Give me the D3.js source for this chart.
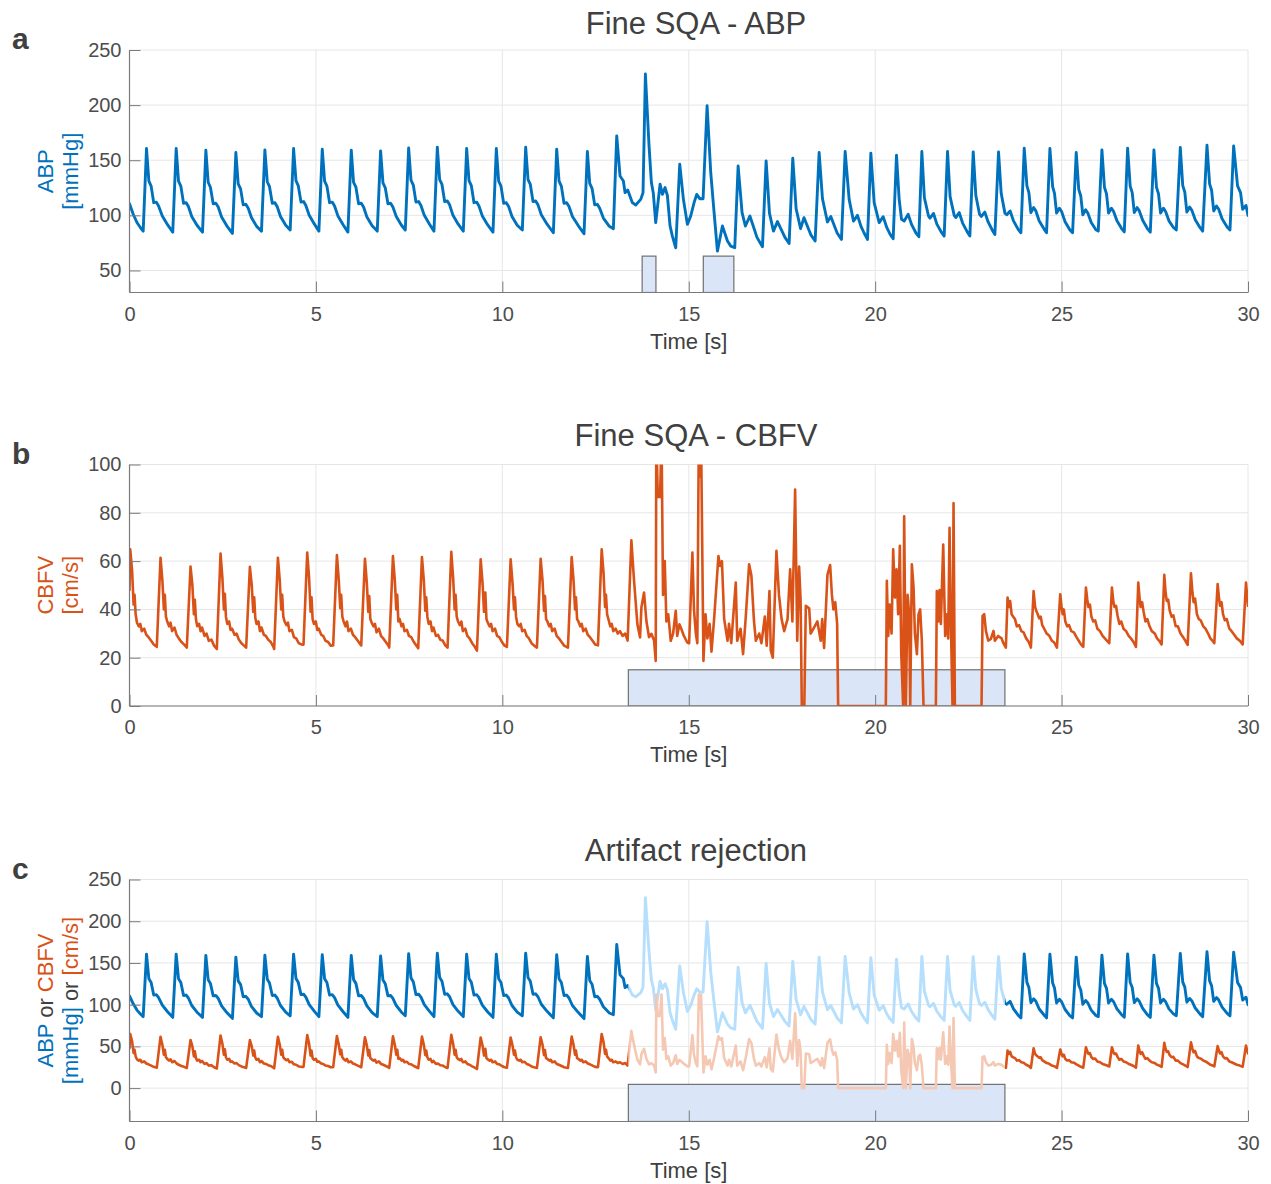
<!DOCTYPE html>
<html>
<head>
<meta charset="utf-8">
<script src="https://cdn.jsdelivr.net/npm/d3@7"></script>
<style>
  body { margin: 0; background: #fff; }
  text { font-family: "Liberation Sans", Arial, Helvetica, sans-serif; }
</style>
</head>
<body>
<svg width="1271" height="1184"></svg>
<script>
// ---- data ----
const xTicks = [0, 5, 10, 15, 20, 25, 30];
const abpTicks = [50, 100, 150, 200, 250];
const cbfvTicks = [0, 20, 40, 60, 80, 100];
const bothTicks = [0, 50, 100, 150, 200, 250];

// windows flagged by the fine SQA  [start s, end s]
const abpWindows = [[13.75, 14.12], [15.39, 16.21]];
const cbfvWindows = [[13.38, 23.48]];
const rejectWindow = [13.38, 23.48];

// ABP [time s, mmHg]
const abp = [
  [0,110.5],[0.1,101],[0.2,93.5],[0.3,88.5],
  [0.367,85.7],[0.456,160.6],[0.52,131],[0.58,126.5],[0.65,111.5],[0.72,112],[0.78,108.5],[0.88,99.5],[1.02,91.5],
  [1.16,84.8],[1.252,160.6],[1.315,131],[1.377,126.5],[1.45,111],[1.52,111.5],[1.58,108],[1.67,99],[1.81,91],
  [1.958,84.8],[2.048,159.1],[2.11,130],[2.17,125.5],[2.245,110.5],[2.315,111],[2.38,107.5],[2.47,98.5],[2.61,90.5],
  [2.76,83.6],[2.853,157],[2.915,128.5],[2.98,124],[3.05,109.5],[3.12,110],[3.185,106.5],[3.27,98],[3.41,90],
  [3.54,85.7],[3.631,159.4],[3.695,130.5],[3.755,126],[3.83,111],[3.9,111.5],[3.96,108],[4.05,99],[4.19,91],
  [4.31,86.7],[4.401,160.6],[4.465,131.5],[4.525,127],[4.6,112],[4.67,112.5],[4.73,109],[4.82,100],[4.96,92],
  [5.08,85.7],[5.17,160],[5.233,131],[5.295,126.5],[5.367,111.5],[5.438,112],[5.5,108.5],[5.59,99.5],[5.73,91.5],
  [5.858,84.8],[5.948,159.1],[6.01,130],[6.073,125.5],[6.145,110.5],[6.216,111],[6.278,107.5],[6.368,98.5],[6.508,90.5],
  [6.645,85.7],[6.735,158.5],[6.798,129.5],[6.86,125],[6.932,110.5],[7.003,111],[7.065,107.5],[7.155,99],[7.295,91],
  [7.397,86.7],[7.487,161.2],[7.55,132],[7.612,127.5],[7.684,112],[7.755,112.5],[7.817,109],[7.907,100],[8.047,92],
  [8.166,85.7],[8.256,161.8],[8.319,132.5],[8.381,128],[8.453,112.5],[8.524,113],[8.586,109.5],[8.676,100],[8.816,92],
  [8.953,85.7],[9.043,160.6],[9.106,131.5],[9.168,127],[9.24,111.5],[9.311,112],[9.373,108.5],[9.463,99.5],[9.603,91.5],
  [9.749,84.8],[9.839,160.6],[9.902,131],[9.964,126.5],[10.036,111],[10.107,111.5],[10.169,108],[10.259,99],[10.399,91],
  [10.536,86.7],[10.626,161.8],[10.689,132.5],[10.751,128],[10.823,112.5],[10.894,113],[10.956,109.5],[11.046,100.5],[11.2,92],
  [11.368,84.2],[11.458,160],[11.521,131],[11.583,126.5],[11.655,111],[11.726,111.5],[11.788,108],[11.88,99],[12.04,90.5],
  [12.191,83.3],[12.281,157.9],[12.344,129],[12.406,124.5],[12.478,109.5],[12.549,110],[12.611,106.5],[12.71,97.5],[12.87,90],
  [12.978,87.9],[13.068,172.1],[13.157,135.7],[13.247,131.2],[13.291,120.6],[13.363,123],[13.488,111.5],[13.578,109.4],
  [13.712,114.5],[13.774,120.6],[13.837,228.2],[13.935,163],[13.998,129.7],[14.05,120],[14.114,93.4],[14.231,128.2],
  [14.293,119],[14.365,125.2],[14.427,118],[14.499,90.3],[14.561,81.2],[14.651,70.6],[14.758,146.4],[14.857,114.5],
  [14.964,91.8],[15.053,99.4],[15.143,111.5],[15.214,119],[15.295,115.1],[15.384,115],[15.492,199.4],[15.59,138.8],
  [15.68,102.4],[15.769,67.5],[15.903,90.3],[16.038,76.7],[16.127,72.1],[16.234,70.6],
  [16.324,144.8],[16.43,102.4],[16.52,90.3],[16.64,99.4],[16.83,80],[16.977,71.5],
  [17.075,149.4],[17.165,102],[17.272,85.7],[17.38,94.3],[17.58,80],[17.692,74.5],
  [17.79,151.8],[17.88,106],[18.0,87.9],[18.09,97.9],[18.28,82],[18.39,76.7],
  [18.497,157],[18.587,115],[18.72,94],[18.81,99],[18.98,84],[19.096,78.2],
  [19.195,157.9],[19.302,114.5],[19.418,94.8],[19.526,100],[19.62,90],[19.7,84.2],[19.794,78.2],
  [19.884,156.4],[19.973,111.5],[20.107,93.4],[20.215,98.8],[20.313,88.8],[20.402,82.7],[20.483,78.8],
  [20.572,154.5],[20.644,114.5],[20.707,96.4],[20.778,94.8],[20.886,100.9],[20.975,91.8],[21.091,84.2],[21.172,80.6],
  [21.252,157.9],[21.32,116],[21.431,99.4],[21.47,97.5],[21.565,101.7],[21.655,92],[21.78,84.5],[21.851,81.2],
  [21.941,157.9],[22.01,117],[22.12,100],[22.16,98],[22.255,102.5],[22.345,93],[22.47,85],[22.54,81.2],
  [22.63,157.6],[22.7,118],[22.8,101],[22.85,99],[22.94,103],[23.03,94],[23.15,86],[23.211,82.7],
  [23.309,157.6],[23.38,120],[23.48,102],[23.53,100.5],[23.62,104],[23.71,95],[23.84,87],[23.909,84.2],
  [23.998,160.9],[24.07,126.7],[24.123,120.6],[24.177,102.4],[24.249,107],[24.311,104],[24.4,94.8],[24.535,87.3],[24.597,84.2],
  [24.687,160.6],[24.76,126],[24.81,120],[24.866,102],[24.94,106.5],[25.0,103.5],[25.09,94.5],[25.22,87],[25.295,84.2],
  [25.393,157],[25.46,123.5],[25.515,117.5],[25.57,100.5],[25.645,105],[25.705,102],[25.795,93.5],[25.92,87],[25.984,85.7],
  [26.082,159.4],[26.15,125.5],[26.205,119.5],[26.26,102],[26.335,106.5],[26.395,103.5],[26.485,95],[26.61,88],[26.682,85],
  [26.771,160.9],[26.84,126.5],[26.895,120.5],[26.95,102.5],[27.025,107],[27.085,104],[27.175,95.5],[27.3,88],[27.379,84.8],
  [27.477,159.4],[27.545,125.5],[27.6,119.5],[27.655,102],[27.73,106.5],[27.79,103.5],[27.88,95],[28.0,89],[28.077,86.7],
  [28.184,161.5],[28.25,127],[28.305,121],[28.36,103],[28.435,107.5],[28.495,104.5],[28.585,96],[28.71,89],[28.784,85.7],
  [28.9,163.6],[28.97,128.5],[29.025,122.5],[29.08,104],[29.155,108.5],[29.215,105.5],[29.305,97],[29.44,89.5],[29.517,86.7],
  [29.615,163],[29.72,126.7],[29.8,120.6],[29.857,105.5],[29.946,109],[30,100]
];

// CBFV [time s, cm/s]
const cbfv = [
  [0,48],[0.02,64.9],[0.07,56],[0.11,42],[0.135,46],[0.165,38],[0.2,34.5],[0.25,33],[0.29,34],[0.33,31],[0.395,32],[0.45,29.5],[0.51,28.5],[0.58,27],[0.65,25.5],
  [0.732,24.5],[0.832,61.4],[0.882,52],[0.922,40],[0.947,46],[0.977,37],[1.012,35],[1.062,33],[1.102,34.5],[1.142,31],[1.207,32.5],[1.262,29.5],[1.322,28],[1.392,26.5],[1.462,25.5],
  [1.537,24.2],[1.637,57.7],[1.687,50],[1.727,38],[1.752,44],[1.782,36],[1.817,33],[1.867,34],[1.907,31],[1.947,32.5],[2.012,29],[2.067,30],[2.127,27],[2.197,27.5],[2.267,25],
  [2.342,23.6],[2.442,63.1],[2.492,53],[2.532,40],[2.557,46.5],[2.587,37],[2.622,34],[2.672,35],[2.712,31.5],[2.752,32],[2.817,29.5],[2.872,30],[2.932,27.5],[3.002,26],[3.072,25],
  [3.129,24.2],[3.229,57.6],[3.279,50],[3.319,39],[3.344,45],[3.374,36.5],[3.409,34],[3.459,35],[3.499,31],[3.539,32.5],[3.604,29.5],[3.659,29],[3.719,27.5],[3.789,26.5],[3.859,24.5],
  [3.88,23.6],[3.98,61.4],[4.03,52],[4.07,40],[4.095,46],[4.125,37],[4.16,35],[4.21,33.5],[4.25,34.5],[4.29,31],[4.355,31.5],[4.41,28.5],[4.47,28],[4.54,26],[4.61,25.5],
  [4.667,25.4],[4.767,63.5],[4.817,53],[4.857,39],[4.882,45],[4.912,36],[4.947,34],[4.997,35],[5.037,31.5],[5.077,32],[5.142,29.5],[5.197,29],[5.257,27],[5.327,26.5],[5.397,25],
  [5.463,25.1],[5.563,62.5],[5.613,52],[5.653,40.5],[5.678,46],[5.708,37],[5.743,35],[5.793,33],[5.833,35],[5.873,31],[5.938,32],[5.993,29.5],[6.053,28.5],[6.123,27],[6.193,25.5],
  [6.215,25.1],[6.315,61],[6.365,51],[6.405,39],[6.43,45.5],[6.46,36],[6.495,34.5],[6.545,33],[6.585,34],[6.625,30.5],[6.69,32],[6.745,29],[6.805,28],[6.875,26.5],[6.945,25],
  [6.966,24.2],[7.066,62.1],[7.116,52],[7.156,40],[7.181,46],[7.211,35],[7.246,36],[7.296,33],[7.336,34],[7.376,31],[7.441,31.5],[7.496,29],[7.556,28.5],[7.626,26.5],[7.696,25],
  [7.744,23.9],[7.844,61.7],[7.894,52],[7.934,39.5],[7.959,45],[7.989,37],[8.024,34],[8.074,35],[8.114,31],[8.154,32.5],[8.219,29],[8.274,29.5],[8.334,27.5],[8.404,27],[8.474,25],
  [8.531,24.2],[8.631,63.8],[8.681,53],[8.721,40],[8.746,46],[8.776,37],[8.811,35],[8.861,33.5],[8.901,35],[8.941,31],[9.006,32],[9.061,29],[9.121,28],[9.191,26],[9.261,24.5],
  [9.319,22.9],[9.419,60.7],[9.469,51],[9.509,39],[9.544,47],[9.574,36],[9.609,34.5],[9.659,33],[9.699,34],[9.739,31],[9.804,32],[9.859,29],[9.919,28.5],[9.989,26.5],[10.059,25],
  [10.123,24.5],[10.223,60.7],[10.273,51],[10.313,40],[10.338,45],[10.368,37],[10.403,34],[10.453,33],[10.493,34],[10.533,31],[10.598,31.5],[10.653,29],[10.713,28],[10.783,26],[10.853,25],
  [10.928,24.2],[11.028,61],[11.078,52],[11.118,39.5],[11.143,45.5],[11.173,36],[11.208,35],[11.258,33],[11.298,34],[11.338,31],[11.403,32],[11.458,29],[11.518,28],[11.588,26.5],[11.658,25],
  [11.76,24.2],[11.86,61.7],[11.91,52],[11.95,40],[11.975,45],[12.005,36],[12.04,35],[12.09,33],[12.13,34],[12.17,31],[12.235,32],[12.29,29.5],[12.35,28.5],[12.42,27],[12.49,25.5],
  [12.565,25.1],[12.665,64.9],[12.715,55],[12.755,41],[12.78,46],[12.81,38],[12.845,36],[12.895,33],[12.935,34],[12.975,31],[13.04,32],[13.095,30],[13.155,31],[13.225,29],[13.295,30],[13.361,27.1],
  [13.461,68.6],[13.533,51.8],[13.622,33.9],[13.694,28.4],[13.73,40.8],[13.801,47],[13.864,35.2],[13.935,28.5],[13.998,29.9],[14.07,27.1],[14.114,18.7],
  [14.13,112],[14.17,86.6],[14.23,86.6],[14.27,112],[14.31,46],[14.356,60],[14.4,35],[14.45,38],[14.517,27],[14.58,30],[14.651,39.4],[14.69,29],
  [14.75,33.8],[14.8,32],[14.87,29],[14.96,26.3],[15.01,26],[15.098,63.5],[15.14,40],[15.19,30],[15.23,26],[15.27,112],[15.3,95],[15.33,112],[15.394,18.7],
  [15.45,38],[15.5,28],[15.56,34],[15.61,22.5],[15.68,36],[15.796,62.1],[15.84,58],[15.89,60],[15.95,36],[16.04,27],[16.08,34],[16.14,26],
  [16.261,51.1],[16.3,27],[16.39,32],[16.457,21.5],[16.53,37],[16.619,58.7],[16.68,54],[16.75,35],[16.8,27],[16.89,30],[16.95,26],[17.04,37],[17.09,25],
  [17.165,47.6],[17.2,23],[17.254,20],[17.352,64.3],[17.42,46],[17.49,36],[17.56,31],[17.65,36],[17.719,56.6],[17.78,35],[17.853,89.6],[17.91,27],
  [17.96,57.7],[18.0,44],[18.032,0],[18.1,0],[18.14,41.5],[18.23,40.5],[18.27,30],[18.36,32.5],[18.45,35],[18.54,27],[18.58,36],[18.63,24],
  [18.72,54.3],[18.792,58.4],[18.84,46],[18.88,40],[18.93,43],[18.98,34],[19.007,0],
  [20.286,0],[20.313,51.8],[20.35,29],[20.39,42],[20.44,30],[20.483,64.9],[20.53,44.9],[20.573,56.6],[20.617,38],[20.662,66.3],[20.7,21.5],
  [20.751,0],[20.778,78.6],[20.823,0],[20.87,46],[20.912,38],[20.94,0],[20.984,58.7],[21.03,49],[21.065,30],[21.12,21.5],[21.163,38],[21.207,40],[21.252,27],[21.297,0],
  [21.628,0],[21.654,47.6],[21.69,35],[21.727,48],[21.762,34],[21.825,66.9],[21.878,29],[21.923,38],[21.959,28],[21.995,73.8],[22.03,35],[22.075,0],[22.102,84],[22.138,0],
  [22.853,0],[22.88,37.3],[22.925,38],[22.97,31.1],[23.032,27.1],[23.104,27.8],[23.175,31.1],[23.211,27],[23.3,29],[23.39,28],[23.443,25.9],[23.506,24.2],
  [23.551,44.9],[23.59,41],[23.62,43.5],[23.66,38],[23.7,37],[23.75,36],[23.8,33],[23.86,33.5],[23.92,31],[23.98,30.5],[24.05,28],[24.12,26.5],[24.177,24.2],
  [24.249,47.6],[24.29,41],[24.32,39.4],[24.36,38],[24.4,36.3],[24.44,37],[24.48,33.5],[24.53,32.1],[24.6,30],[24.67,29.1],[24.74,27],[24.803,26.3],[24.875,24.2],
  [24.964,46.3],[25.0,41],[25.03,38],[25.06,40],[25.1,35],[25.15,33],[25.2,33.5],[25.26,31],[25.33,30.5],[25.4,28.5],[25.46,27],[25.52,25.5],[25.581,24.5],
  [25.653,49],[25.69,44],[25.72,41],[25.76,42],[25.8,37],[25.85,35],[25.9,35.5],[25.96,32],[26.03,31],[26.1,29],[26.16,28],[26.22,27],[26.279,26],
  [26.35,49],[26.39,43],[26.42,41],[26.46,41.5],[26.5,37.5],[26.55,34],[26.6,35],[26.66,32],[26.73,31],[26.8,29],[26.86,28],[26.93,26.5],[26.995,24.5],
  [27.057,51.1],[27.09,45],[27.12,41],[27.16,43],[27.2,39],[27.25,35],[27.3,36],[27.36,33],[27.42,31],[27.5,30],[27.56,28],[27.62,27],[27.683,25.5],
  [27.755,54.3],[27.79,47],[27.82,43.5],[27.86,44],[27.9,39.5],[27.95,37],[28.0,37.5],[28.06,33],[28.12,33],[28.19,30],[28.26,28.5],[28.32,27],[28.381,25.3],
  [28.47,54.9],[28.51,47],[28.54,43],[28.58,44.5],[28.63,38],[28.68,36],[28.73,35.5],[28.8,33],[28.86,32],[28.93,30],[28.99,28],[29.05,27],[29.096,26],
  [29.186,50.5],[29.22,45],[29.25,41.5],[29.29,43],[29.33,38],[29.38,35.5],[29.43,36],[29.5,32],[29.56,31],[29.63,29.5],[29.7,28],[29.78,27],[29.857,25.5],
  [29.946,51.1],[30,41.5]
];

// ---- layout ----
const svg = d3.select('svg');
const blue = '#0072BD', orange = '#D95319';
const lightBlue = '#b5dffc', lightOrange = '#f5c8b4';
const left = 129.5, right = 1248;
const abpWidth = 2.9, cbfvWidth = 2.6;

const x = d3.scaleLinear().domain([0, 30]).range([left, right]);

const panels = [
  {id: 'a', title: 'Fine SQA - ABP', top: 50, bottom: 292.5, domain: [30, 250], ticks: abpTicks, titleGap: 16,
   boxes: abpWindows.map(w => [w[0], w[1], 30, 63])},
  {id: 'b', title: 'Fine SQA - CBFV', top: 464.5, bottom: 706, domain: [0, 100], ticks: cbfvTicks, titleGap: 18.5,
   boxes: cbfvWindows.map(w => [w[0], w[1], 0, 15])},
  {id: 'c', title: 'Artifact rejection', top: 879.5, bottom: 1121.5, domain: [-40, 250], ticks: bothTicks, titleGap: 18.5,
   boxes: [[rejectWindow[0], rejectWindow[1], -40, 4.5]]}
];

const defs = svg.append('defs');

panels.forEach(p => {
  const y = d3.scaleLinear().domain(p.domain).range([p.bottom, p.top]);
  const g = svg.append('g');

  // grid
  g.append('g').selectAll('line').data(xTicks).enter().append('line')
    .attr('x1', d => x(d)).attr('x2', d => x(d))
    .attr('y1', p.top).attr('y2', p.bottom)
    .attr('stroke', '#e6e6e6').attr('stroke-width', 1);
  g.append('g').selectAll('line').data(p.ticks).enter().append('line')
    .attr('x1', left).attr('x2', right)
    .attr('y1', d => y(d)).attr('y2', d => y(d))
    .attr('stroke', '#e6e6e6').attr('stroke-width', 1);

  defs.append('clipPath').attr('id', 'clip-' + p.id)
    .append('rect').attr('x', left).attr('y', p.top)
    .attr('width', right - left).attr('height', p.bottom - p.top);

  const plot = g.append('g').attr('clip-path', `url(#clip-${p.id})`);

  // flagged windows
  plot.selectAll('rect.win').data(p.boxes).enter().append('rect')
    .attr('class', 'win')
    .attr('x', d => x(d[0])).attr('width', d => x(d[1]) - x(d[0]))
    .attr('y', d => y(d[3])).attr('height', d => y(d[2]) - y(d[3]))
    .attr('fill', '#dae6f7').attr('stroke', '#707070').attr('stroke-width', 1.2);

  const line = d3.line().x(d => x(d[0])).y(d => y(d[1]));

  const draw = (sel, data, color, w) => sel.append('path').datum(data).attr('d', line)
    .attr('fill', 'none').attr('stroke', color).attr('stroke-width', w)
    .attr('stroke-linejoin', 'round').attr('stroke-linecap', 'round');

  if (p.id === 'a') {
    draw(plot, abp, blue, abpWidth);
  } else if (p.id === 'b') {
    draw(plot, cbfv, orange, cbfvWidth);
  } else {
    // clean parts dark, rejected part light
    defs.append('clipPath').attr('id', 'clip-rej')
      .append('rect').attr('x', x(rejectWindow[0])).attr('y', p.top)
      .attr('width', x(rejectWindow[1]) - x(rejectWindow[0])).attr('height', p.bottom - p.top);
    const keep = defs.append('clipPath').attr('id', 'clip-keep');
    keep.append('rect').attr('x', left).attr('y', p.top)
      .attr('width', x(rejectWindow[0]) - left).attr('height', p.bottom - p.top);
    keep.append('rect').attr('x', x(rejectWindow[1])).attr('y', p.top)
      .attr('width', right - x(rejectWindow[1])).attr('height', p.bottom - p.top);

    const rej = plot.append('g').attr('clip-path', 'url(#clip-rej)');
    draw(rej, abp, lightBlue, abpWidth);
    draw(rej, cbfv, lightOrange, cbfvWidth);

    const ok = plot.append('g').attr('clip-path', 'url(#clip-keep)');
    draw(ok, abp, blue, abpWidth);
    draw(ok, cbfv, orange, cbfvWidth);
  }

  // axes
  const yAxis = d3.axisLeft(y).tickValues(p.ticks).tickSize(-11).tickPadding(8);
  const xAxis = d3.axisBottom(x).tickValues(xTicks).tickSize(-11).tickPadding(14);

  const ya = g.append('g').attr('transform', `translate(${left},0)`).call(yAxis);
  ya.select('.domain').attr('d', `M0,${p.top}V${p.bottom}`);
  const xa = g.append('g').attr('transform', `translate(0,${p.bottom})`).call(xAxis);
  xa.select('.domain').attr('d', `M${left},0H${right}`);

  [ya, xa].forEach(a => {
    a.select('.domain').attr('stroke', '#7a7a7a').attr('stroke-width', 1.2);
    a.selectAll('.tick line').attr('stroke', '#7a7a7a').attr('stroke-width', 1);
    a.selectAll('.tick text').attr('fill', '#4d4d4d').style('font-size', '20px')
      .style('font-family', '"Liberation Sans", Arial, sans-serif');
  });

  // title, xlabel, panel letter
  svg.append('text').attr('x', 696).attr('y', p.top - p.titleGap)
    .attr('text-anchor', 'middle').attr('fill', '#404040').style('font-size', '31px')
    .text(p.title);
  svg.append('text').attr('x', (left + right) / 2).attr('y', p.bottom + 56)
    .attr('text-anchor', 'middle').attr('fill', '#404040').style('font-size', '22px')
    .text('Time [s]');
  svg.append('text').attr('x', 12).attr('y', p.top - 1)
    .attr('fill', '#404040').style('font-size', '30px').style('font-weight', 'bold')
    .text(p.id);

  // y labels
  const cy = (p.top + p.bottom) / 2;
  const l1 = svg.append('text').attr('transform', `translate(53,${cy}) rotate(-90)`)
    .attr('text-anchor', 'middle').style('font-size', '22px');
  const l2 = svg.append('text').attr('transform', `translate(78,${cy}) rotate(-90)`)
    .attr('text-anchor', 'middle').style('font-size', '22px');
  if (p.id === 'a') {
    l1.attr('fill', blue).text('ABP');
    l2.attr('fill', blue).text('[mmHg]');
  } else if (p.id === 'b') {
    l1.attr('fill', orange).text('CBFV');
    l2.attr('fill', orange).text('[cm/s]');
  } else {
    l1.append('tspan').attr('fill', blue).text('ABP');
    l1.append('tspan').attr('fill', '#404040').text(' or ');
    l1.append('tspan').attr('fill', orange).text('CBFV');
    l2.append('tspan').attr('fill', blue).text('[mmHg]');
    l2.append('tspan').attr('fill', '#404040').text(' or ');
    l2.append('tspan').attr('fill', orange).text('[cm/s]');
  }
});
</script>
</body>
</html>
